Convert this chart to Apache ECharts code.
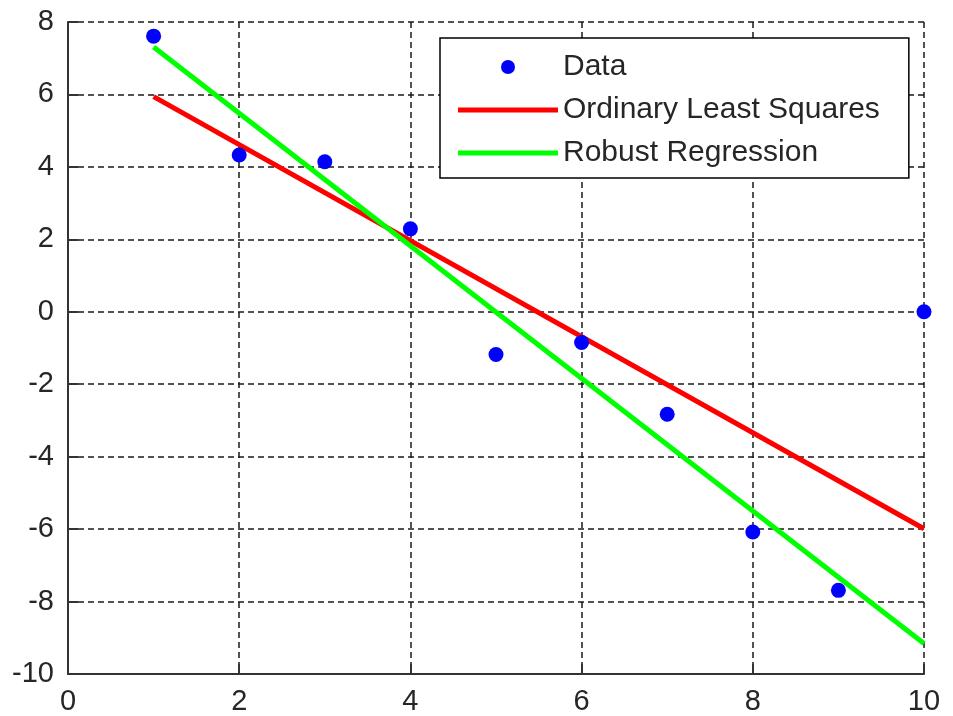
<!DOCTYPE html>
<html>
<head>
<meta charset="utf-8">
<script src="https://cdn.jsdelivr.net/npm/echarts@6/dist/echarts.min.js"></script>
<style>
  html, body { margin: 0; padding: 0; background: #fff; }
  #chart { width: 953px; height: 716px; }
</style>
</head>
<body>
<div id="chart"></div>
<script>
// Data
const dataX = [1, 2, 3, 4, 5, 6, 7, 8, 9, 10];
const dataY = [7.61, 4.33, 4.14, 2.29, -1.18, -0.85, -2.83, -6.08, -7.69, 0.0];
const lineX = [1, 10];
const olsY = [5.94, -5.99];
const robustY = [7.31, -9.16];
const seriesNames = ['Data', 'Ordinary Least Squares', 'Robust Regression'];

const pairs = (xs, ys) => xs.map((x, i) => [x, ys[i]]);

const font = 'Liberation Sans, Arial, Helvetica, sans-serif';
const lineIcon = 'path://M0,0 L100,0 L100,5 L0,5 Z';
const chart = echarts.init(document.getElementById('chart'), null, { renderer: 'canvas' });
chart.setOption({
  backgroundColor: '#ffffff',
  animation: false,
  grid: { left: 68, right: 29, top: 22, bottom: 39, containLabel: false },
  xAxis: {
    type: 'value', min: 0, max: 10, interval: 2,
    axisLine: { show: true, onZero: false, lineStyle: { color: '#333', width: 2 } },
    axisTick: { show: true, inside: true, length: 10, lineStyle: { color: '#333', width: 2 } },
    axisLabel: { color: '#262626', fontSize: 29, fontFamily: font, margin: 13 },
    splitLine: { show: true, lineStyle: { color: '#1a1a1a', type: [6, 4], width: 1.5 } }
  },
  yAxis: {
    type: 'value', min: -10, max: 8, interval: 2,
    axisLine: { show: true, onZero: false, lineStyle: { color: '#333', width: 2 } },
    axisTick: { show: true, inside: true, length: 10, lineStyle: { color: '#333', width: 2 } },
    axisLabel: { color: '#262626', fontSize: 29, fontFamily: font, margin: 14 },
    splitLine: { show: true, lineStyle: { color: '#1a1a1a', type: [6, 4], width: 1.5 } }
  },
  legend: {
    orient: 'vertical',
    left: 440, top: 38,
    data: [
      { name: seriesNames[0], icon: 'circle' },
      { name: seriesNames[1], icon: lineIcon },
      { name: seriesNames[2], icon: lineIcon }
    ],
    itemWidth: 100, itemHeight: 14, itemGap: 13,
    padding: [14, 29, 10, 18],
    borderColor: '#000', borderWidth: 1.5,
    backgroundColor: '#fff',
    textStyle: { color: '#262626', fontSize: 30, fontFamily: font }
  },
  series: [
    {
      name: seriesNames[1], type: 'line', data: pairs(lineX, olsY),
      symbol: 'none', lineStyle: { color: '#ff0000', width: 5 }, itemStyle: { color: '#ff0000' }, z: 3
    },
    {
      name: seriesNames[2], type: 'line', data: pairs(lineX, robustY),
      symbol: 'none', lineStyle: { color: '#00ff00', width: 5 }, itemStyle: { color: '#00ff00' }, z: 3
    },
    {
      name: seriesNames[0], type: 'scatter', data: pairs(dataX, dataY),
      symbol: 'circle', symbolSize: 15, itemStyle: { color: '#0000ff', opacity: 1 }, z: 4
    }
  ]
});
</script>
</body>
</html>
